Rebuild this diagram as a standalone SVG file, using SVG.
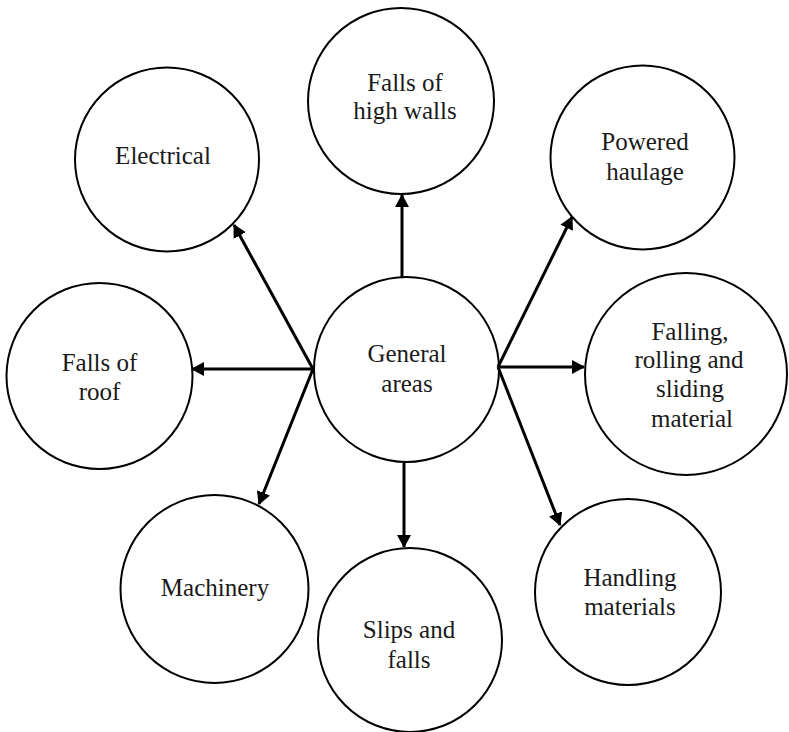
<svg xmlns="http://www.w3.org/2000/svg" width="789" height="732" viewBox="0 0 789 732">
<style>
.n circle{fill:#fff;stroke:#000;stroke-width:2}
.n text{font-size:25px;fill:#1a1a1a;text-anchor:middle}
.c line{stroke:#000;stroke-width:3;marker-end:url(#ah)}
</style>
<defs>
<marker id="ah" markerUnits="userSpaceOnUse" markerWidth="13" markerHeight="14" refX="12" refY="7" orient="auto" viewBox="0 0 13 14">
<path d="M0,0 L13,7 L0,14 z" fill="#000"/>
</marker>
</defs>
<rect width="789" height="732" fill="#fff"/>
<g font-family="Liberation Serif, Times New Roman, serif">
<g id="general" class="n"><circle cx="406.5" cy="369.5" r="92.5"/><text x="407" y="362">General</text><text x="407" y="392">areas</text></g>
<g id="highwalls" class="n"><circle cx="401" cy="101" r="93"/><text x="405" y="91">Falls of</text><text x="405" y="119">high walls</text></g>
<g id="electrical" class="n"><circle cx="167" cy="159.5" r="92"/><text x="163" y="164">Electrical</text></g>
<g id="powered" class="n"><circle cx="642.5" cy="157.5" r="92"/><text x="645" y="150">Powered</text><text x="645" y="180">haulage</text></g>
<g id="roof" class="n"><circle cx="99.5" cy="376" r="93"/><text x="99.5" y="371">Falls of</text><text x="99.5" y="400">roof</text></g>
<g id="falling" class="n"><circle cx="686" cy="374" r="101"/><text x="690" y="340">Falling,</text><text x="689" y="368">rolling and</text><text x="690" y="397">sliding</text><text x="692" y="427">material</text></g>
<g id="machinery" class="n"><circle cx="214.5" cy="589" r="94"/><text x="215" y="596">Machinery</text></g>
<g id="slips" class="n"><circle cx="410" cy="640" r="92"/><text x="409" y="638">Slips and</text><text x="409" y="668">falls</text></g>
<g id="handling" class="n"><circle cx="628" cy="592" r="93"/><text x="630" y="586">Handling</text><text x="630" y="615">materials</text></g>
</g>
<g id="connectors" class="c">
<line x1="402" y1="277" x2="402" y2="195"/>
<line x1="313" y1="369" x2="234" y2="225"/>
<line x1="313" y1="369" x2="192" y2="369"/>
<line x1="313" y1="369" x2="259" y2="504"/>
<line x1="404" y1="463" x2="404" y2="547"/>
<line x1="498" y1="367" x2="572" y2="217"/>
<line x1="498" y1="367" x2="584" y2="367"/>
<line x1="498" y1="367" x2="560" y2="525"/>
</g>
</svg>
